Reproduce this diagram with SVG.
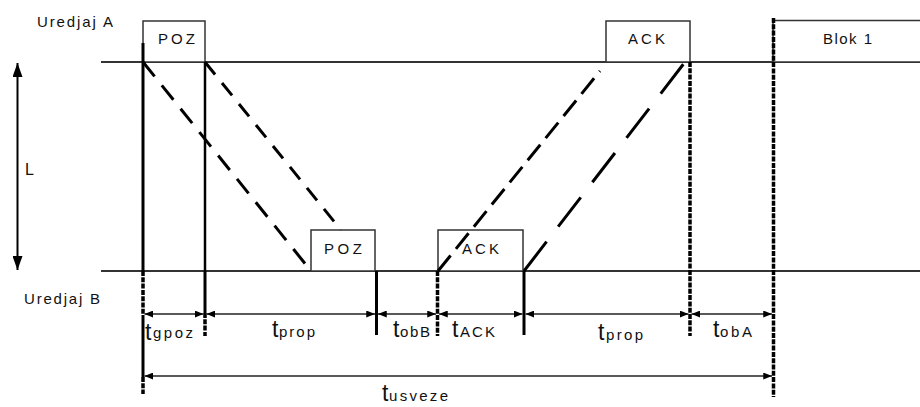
<svg xmlns="http://www.w3.org/2000/svg" width="920" height="407" viewBox="0 0 920 407">
<defs>
<style>
.axis{stroke:#333;stroke-width:2;fill:none}
.box{fill:#fff;stroke:#333;stroke-width:1.5}
.txt{font-family:"Liberation Sans",Arial,sans-serif;font-size:15px;fill:#111}
.sub{font-family:"Liberation Sans",Arial,sans-serif;font-size:15px;fill:#111}
.t{font-family:"Liberation Sans",Arial,sans-serif;font-size:23px;fill:#111}
.sig{stroke:#000;stroke-width:3;fill:none}
.vs{stroke:#000;stroke-width:3;fill:none}
.vd{stroke:#000;stroke-width:3.5;fill:none;stroke-dasharray:5 1.3}
.dim{stroke:#222;stroke-width:1.5;fill:none;marker-start:url(#ah);marker-end:url(#ah)}
</style>
<marker id="ah" viewBox="0 0 10 8" refX="10" refY="4" markerWidth="9" markerHeight="7" markerUnits="userSpaceOnUse" orient="auto-start-reverse">
<path d="M0,0 L10,4 L0,8 z" fill="#000"/>
</marker>
<marker id="ahL" viewBox="0 0 14 10" refX="14" refY="5" markerWidth="15" markerHeight="10" markerUnits="userSpaceOnUse" orient="auto-start-reverse">
<path d="M0,0 L14,5 L0,10 z" fill="#000"/>
</marker>
</defs>
<rect width="920" height="407" fill="#fff"/>

<g id="timeline-A">
<line class="axis" x1="101" y1="62" x2="920" y2="62"/>
<text class="txt" x="37" y="27" textLength="76" lengthAdjust="spacing">Uredjaj A</text>
</g>
<g id="timeline-B">
<line class="axis" x1="101" y1="271" x2="920" y2="271"/>
<text class="txt" x="24" y="304" textLength="76" lengthAdjust="spacing">Uredjaj B</text>
</g>

<g id="distance-L">
<line x1="17.5" y1="63" x2="17.5" y2="270" stroke="#000" stroke-width="2" marker-start="url(#ahL)" marker-end="url(#ahL)"/>
<text class="txt" x="25" y="175" style="font-size:16px">L</text>
</g>

<g id="poz-A">
<rect class="box" x="143" y="21" width="62" height="41"/>
<text class="txt" x="158" y="44" textLength="37" lengthAdjust="spacing">POZ</text>
</g>
<g id="ack-A">
<rect class="box" x="606" y="21" width="84" height="41"/>
<text class="txt" x="628" y="44" textLength="37" lengthAdjust="spacing">ACK</text>
</g>
<g id="blok1-A">
<rect class="box" x="773" y="20.5" width="160" height="41.5"/>
<text class="txt" x="823" y="44" textLength="49" lengthAdjust="spacing">Blok 1</text>
</g>
<g id="poz-B">
<rect class="box" x="311" y="230" width="64" height="41"/>
<text class="txt" x="324" y="254" textLength="38" lengthAdjust="spacing">POZ</text>
</g>
<g id="ack-B">
<rect class="box" x="438" y="230" width="85" height="41"/>
<text class="txt" x="462" y="254" textLength="37" lengthAdjust="spacing">ACK</text>
</g>

<g id="connectors">
<line class="sig" x1="143" y1="62" x2="311" y2="271" stroke-dasharray="18.5 11.5"/>
<line class="sig" x1="205" y1="62" x2="341" y2="230" stroke-dasharray="16 11"/>
<line class="sig" x1="438" y1="271" x2="600" y2="71" stroke-dasharray="20 8.5"/>
<line class="sig" x1="524" y1="271" x2="685" y2="62" stroke-dasharray="37 19"/>

<line class="vs" x1="143" y1="43" x2="143" y2="271"/>
<line class="vd" x1="143" y1="271" x2="143" y2="315"/>
<line class="vs" x1="143" y1="315" x2="143" y2="377"/>
<line class="vd" x1="143" y1="377" x2="143" y2="394"/>
<line x1="205" y1="62" x2="205" y2="271" stroke="#000" stroke-width="2.5"/>
<line class="vs" x1="205" y1="271" x2="205" y2="313"/>
<line class="vd" x1="205" y1="313" x2="205" y2="336"/>
<line class="vs" x1="376.5" y1="271" x2="376.5" y2="335"/>
<line class="vd" x1="437.5" y1="271" x2="437.5" y2="336"/>
<line class="vs" x1="524" y1="271" x2="524" y2="335"/>
<line class="vd" x1="690" y1="62" x2="690" y2="336"/>
<line class="vd" x1="773.5" y1="18" x2="773.5" y2="397"/>

<line class="dim" x1="144.5" y1="314" x2="203.5" y2="314"/>
<line class="dim" x1="206.5" y1="314" x2="375" y2="314"/>
<line class="dim" x1="378" y1="314" x2="436" y2="314"/>
<line class="dim" x1="439" y1="314" x2="522.5" y2="314"/>
<line class="dim" x1="525.5" y1="314" x2="688.5" y2="314"/>
<line class="dim" x1="691.5" y1="314" x2="772" y2="314"/>
<line class="dim" x1="144.5" y1="376" x2="772" y2="376"/>
</g>

<g id="labels">
<g id="lbl-tgpoz"><text class="t" x="145" y="340">t</text><text class="sub" x="153" y="338" textLength="40" lengthAdjust="spacing">gpoz</text></g>
<g id="lbl-tprop1"><text class="t" x="272" y="337">t</text><text class="sub" x="279" y="337" textLength="36" lengthAdjust="spacing">prop</text></g>
<g id="lbl-tobB"><text class="t" x="393" y="337">t</text><text class="sub" x="400" y="337" textLength="30" lengthAdjust="spacing">obB</text></g>
<g id="lbl-tACK"><text class="t" x="452" y="337">t</text><text class="sub" x="460" y="337" textLength="35" lengthAdjust="spacing">ACK</text></g>
<g id="lbl-tprop2"><text class="t" x="598" y="340">t</text><text class="sub" x="606" y="340" textLength="37" lengthAdjust="spacing">prop</text></g>
<g id="lbl-tobA"><text class="t" x="713" y="337">t</text><text class="sub" x="720" y="337" textLength="32" lengthAdjust="spacing">obA</text></g>
<g id="lbl-tusveze"><text class="t" x="382" y="401">t</text><text class="sub" x="389" y="401" textLength="59" lengthAdjust="spacing">usveze</text></g>
</g>
</svg>
